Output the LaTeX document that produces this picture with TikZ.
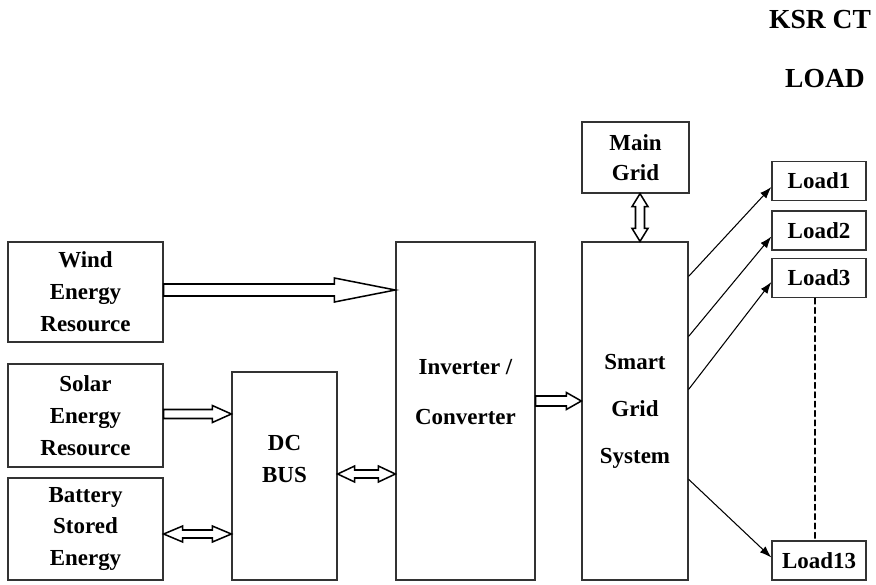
\documentclass[tikz,border=0pt]{standalone}
\usepackage{fontspec}
\setmainfont{Liberation Serif}
\usetikzlibrary{arrows.meta,calc}

\newcommand{\px}{0.03cm}
% hollow block arrows: #1 tail, #2 tip, #3 shaft half width, #4 head half width, #5 head length
\newcommand{\fatright}[5]{%
  \draw[blockarrow] ($(#1)+(0,-#3)$) -- ($(#2)+(-#5,-#3)$) -- ($(#2)+(-#5,-#4)$) -- (#2)
    -- ($(#2)+(-#5,#4)$) -- ($(#2)+(-#5,#3)$) -- ($(#1)+(0,#3)$) -- cycle;}
\newcommand{\fatboth}[5]{%
  \draw[blockarrow] (#1) -- ($(#1)+(#5,-#4)$) -- ($(#1)+(#5,-#3)$) -- ($(#2)+(-#5,-#3)$)
    -- ($(#2)+(-#5,-#4)$) -- (#2) -- ($(#2)+(-#5,#4)$) -- ($(#2)+(-#5,#3)$)
    -- ($(#1)+(#5,#3)$) -- ($(#1)+(#5,#4)$) -- cycle;}
\newcommand{\fatupdown}[5]{%
  \draw[blockarrow] (#1) -- ($(#1)+(#4,#5)$) -- ($(#1)+(#3,#5)$) -- ($(#2)+(#3,-#5)$)
    -- ($(#2)+(#4,-#5)$) -- (#2) -- ($(#2)+(-#4,-#5)$) -- ($(#2)+(-#3,-#5)$)
    -- ($(#1)+(-#3,#5)$) -- ($(#1)+(-#4,#5)$) -- cycle;}

\tikzset{
  box/.style={draw=black!80, line width=1.1pt, inner sep=0pt, align=center,
    font=\fontsize{19.6pt}{27.3pt}\selectfont\bfseries},
  boxtext/.style={inner sep=0pt, align=center, font=\fontsize{19.6pt}{27.3pt}\selectfont\bfseries},
  loadbox/.style={box, minimum width=94*\px, minimum height=39*\px},
  title/.style={inner sep=0pt, font=\fontsize{23.5pt}{28pt}\selectfont\bfseries},
  blockarrow/.style={draw=black, line width=1.3pt, fill=white, line join=miter},
  feed/.style={draw=black, line width=0.9pt, -{Latex[length=10pt,width=7pt]}},
}

\begin{document}
\begin{tikzpicture}[x=0.03cm, y=-0.03cm, line cap=round]
  \useasboundingbox (0,0) rectangle (876,584);

  % sources
  \node[box, minimum width=155*\px, minimum height=100*\px] (wind) at (85.5,292) {Wind\\Energy\\Resource};
  \node[box, minimum width=155*\px, minimum height=103*\px] (solar) at (85.5,415.5) {Solar\\Energy\\Resource};
  \node[box, minimum width=155*\px, minimum height=102*\px] (battery) at (85.5,529) {Battery\\Stored\\Energy};

  % bus, converter, smart grid
  \node[box, minimum width=105*\px, minimum height=208*\px] (dcbus) at (284.5,476) {};
  \node[boxtext] (dctext) at (284.5,459) {DC\\BUS};
  \node[box, minimum width=139*\px, minimum height=338*\px] (inverter) at (465.5,411) {};
  \node[boxtext] (invtext) at (465.5,392) {Inverter /\\[15pt]Converter};
  \node[box, minimum width=106*\px, minimum height=338*\px] (smart) at (635,411) {Smart\\[12.8pt]Grid\\[12.8pt]System};
  \node[box, minimum width=107*\px, minimum height=71*\px] (maingrid) at (635.5,157.5) {Main\\[-1.5pt]Grid};

  % loads
  \node[loadbox] (load1) at (819,181) {Load1};
  \node[loadbox] (load2) at (819,230.5) {Load2};
  \node[loadbox] (load3) at (819,278) {Load3};
  \node[loadbox] (load13) at (819,560.5) {Load13};

  \node[title] (ksr) at (820,20) {KSR CT};
  \node[title] (loadtitle) at (825,79) {LOAD};

  % block arrows
  \coordinate (wa) at ($(wind.east)+(0,-2)$);
  \coordinate (wb) at (inverter.west |- wa);
  \fatright{wa}{wb}{6}{12}{61}
  \coordinate (sa) at ($(solar.east)+(0,-1.5)$);
  \coordinate (sb) at (dcbus.west |- sa);
  \fatright{sa}{sb}{4.5}{8.5}{19}
  \coordinate (ba) at ($(battery.east)+(0,5)$);
  \coordinate (bb) at (dcbus.west |- ba);
  \fatboth{ba}{bb}{4}{8}{19}
  \coordinate (da) at ($(dcbus.east)+(0,-2)$);
  \coordinate (db) at (inverter.west |- da);
  \fatboth{da}{db}{4}{8}{17}
  \coordinate (ia) at ($(inverter.east)+(0,-10)$);
  \coordinate (ib) at (smart.west |- ia);
  \fatright{ia}{ib}{5}{8.5}{15}
  \coordinate (ma) at ($(maingrid.south)+(4.5,0)$);
  \coordinate (mb) at (ma |- smart.north);
  \fatupdown{ma}{mb}{4.5}{8}{13}

  % feeders to the loads
  \draw[feed] ($(smart.north east)+(0,35)$) -- ($(load1.west)+(0,6)$);
  \draw[feed] ($(smart.north east)+(0,95)$) -- ($(load2.west)+(0,6)$);
  \draw[feed] ($(smart.north east)+(0,148)$) -- ($(load3.west)+(0,4)$);
  \draw[feed] ($(smart.north east)+(0,238)$) -- ($(load13.west)+(0,-3)$);
  \draw[line width=0.9pt, dash pattern=on 5pt off 3pt] ($(load3.south)+(-4,0)$) -- ($(load13.north)+(-4,0)$);
\end{tikzpicture}
\end{document}
